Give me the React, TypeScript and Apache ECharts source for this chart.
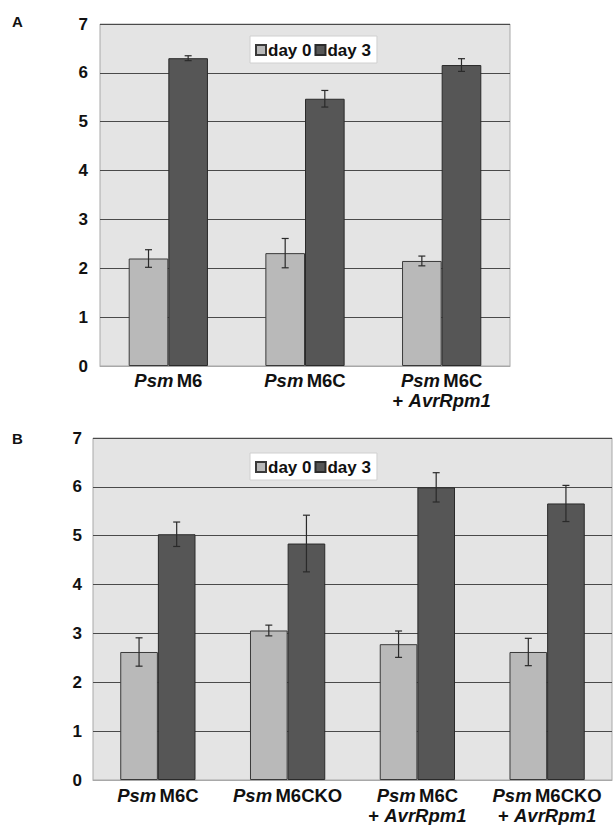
import React, { useEffect, useRef } from "react";
import * as echarts from "echarts";

const catsA = [
  ["Psm", "M6", ""],
  ["Psm", "M6C", ""],
  ["Psm", "M6C", "AvrRpm1"],
];
const day0A = [2.2, 2.31, 2.15];
const day0ErrA = [0.18, 0.3, 0.1];
const day3A = [6.3, 5.47, 6.16];
const day3ErrA = [0.05, 0.17, 0.13];

const catsB = [
  ["Psm", "M6C", ""],
  ["Psm", "M6CKO", ""],
  ["Psm", "M6C", "AvrRpm1"],
  ["Psm", "M6CKO", "AvrRpm1"],
];
const day0B = [2.62, 3.06, 2.78, 2.62];
const day0ErrB = [0.29, 0.11, 0.27, 0.28];
const day3B = [5.03, 4.84, 5.99, 5.66];
const day3ErrB = [0.25, 0.58, 0.3, 0.37];

const yTicks = [0, 1, 2, 3, 4, 5, 6, 7];

const GAP = 0.42;
const FONT = "Liberation Sans, Arial, sans-serif";

function catLabel(c: string[]) {
  return c[2] ? `{i|${c[0]}} {b|${c[1]}}\n{b|+ }{i|${c[2]}}` : `{i|${c[0]}} {b|${c[1]}}`;
}

function errSeries(vals: number[], errs: number[], gi: number, side: number) {
  return {
    type: "custom",
    xAxisIndex: gi,
    yAxisIndex: gi,
    z: 5,
    silent: true,
    data: vals.map((v, i) => [i, v, errs[i]]),
    renderItem: (params: any, api: any) => {
      const i = api.value(0);
      const v = api.value(1);
      const e = api.value(2);
      const catW = api.size([1, 0])[0];
      const barW = (catW * (1 - GAP)) / 2;
      const off = (side * barW) / 2;
      const t = api.coord([i, v + e]);
      const b = api.coord([i, v - e]);
      const x = t[0] + off;
      const cap = 3.5;
      const style = { stroke: "#2a2a2a", lineWidth: 1.2 };
      return {
        type: "group",
        children: [
          { type: "line", shape: { x1: x, y1: t[1], x2: x, y2: b[1] }, style },
          { type: "line", shape: { x1: x - cap, y1: t[1], x2: x + cap, y2: t[1] }, style },
          { type: "line", shape: { x1: x - cap, y1: b[1], x2: x + cap, y2: b[1] }, style },
        ],
      };
    },
  };
}

export default function App() {
  const ref = useRef<HTMLDivElement>(null);
  useEffect(() => {
    const chart = echarts.init(ref.current!, undefined, { renderer: "svg" });
    const rich = {
      i: { fontStyle: "italic", fontWeight: "bold", fontSize: 18.5, fontFamily: FONT, color: "#111", lineHeight: 20 },
      b: { fontWeight: "bold", fontSize: 18.5, fontFamily: FONT, color: "#111", lineHeight: 20 },
    };
    const grids = [
      { left: 100, top: 24, width: 410, height: 342 },
      { left: 93, top: 438, width: 519, height: 342 },
    ];
    const cats = [catsA, catsB];
    const option: any = {
      animation: false,
      backgroundColor: "#ffffff",
      grid: grids.map((g) => ({
        ...g,
        show: true,
        backgroundColor: "#e4e4e4",
        borderColor: "#a8a8a8",
        borderWidth: 1,
        containLabel: false,
      })),
      xAxis: cats.map((c, gi) => ({
        type: "category",
        gridIndex: gi,
        data: c.map((_, i) => String(i)),
        axisLine: { show: true, lineStyle: { color: "#a8a8a8", width: 1 } },
        axisTick: { show: false },
        axisLabel: {
          margin: gi === 0 ? 4 : 5,
          interval: 0,
          formatter: (v: string) => catLabel(c[Number(v)]),
          rich,
        },
      })),
      yAxis: [0, 1].map((gi) => ({
        type: "value",
        gridIndex: gi,
        min: yTicks[0],
        max: yTicks[yTicks.length - 1],
        interval: 1,
        axisLine: { show: false },
        axisTick: { show: false },
        splitLine: { show: true, lineStyle: { color: "#4a4a4a", width: 1.2 } },
        axisLabel: {
          margin: gi === 0 ? 12 : 11,
          fontSize: 17,
          fontWeight: "bold",
          fontFamily: FONT,
          color: "#111",
        },
      })),
      legend: [
        { left: 250, top: 36 },
        { left: 250, top: 453 },
      ].map((p) => ({
        ...p,
        data: ["day 0", "day 3"],
        backgroundColor: "#ffffff",
        borderColor: "#d0d0d0",
        borderWidth: 1,
        padding: [5, 6, 4, 5],
        itemGap: 3,
        itemWidth: 10,
        itemHeight: 10,
        icon: "rect",
        textStyle: { fontSize: 17, fontWeight: "bold", fontFamily: FONT, color: "#111", padding: [0, 0, 0, -3], lineHeight: 18 },
        selectedMode: false,
      })),
      graphic: [
        { type: "text", left: 12, top: 14, style: { text: "A", fontSize: 15, fontWeight: "bold", fontFamily: FONT, fill: "#111" } },
        { type: "text", left: 12, top: 431, style: { text: "B", fontSize: 15, fontWeight: "bold", fontFamily: FONT, fill: "#111" } },
      ],
      series: [
        {
          name: "day 0", type: "bar", xAxisIndex: 0, yAxisIndex: 0, data: day0A,
          barGap: "0%", barCategoryGap: `${GAP * 100}%`,
          itemStyle: { color: "#b9b9b9", borderColor: "#3a3a3a", borderWidth: 1 },
        },
        {
          name: "day 3", type: "bar", xAxisIndex: 0, yAxisIndex: 0, data: day3A,
          barGap: "0%", barCategoryGap: `${GAP * 100}%`,
          itemStyle: { color: "#565656", borderColor: "#2a2a2a", borderWidth: 1 },
        },
        {
          name: "day 0", type: "bar", xAxisIndex: 1, yAxisIndex: 1, data: day0B,
          barGap: "0%", barCategoryGap: `${GAP * 100}%`,
          itemStyle: { color: "#b9b9b9", borderColor: "#3a3a3a", borderWidth: 1 },
        },
        {
          name: "day 3", type: "bar", xAxisIndex: 1, yAxisIndex: 1, data: day3B,
          barGap: "0%", barCategoryGap: `${GAP * 100}%`,
          itemStyle: { color: "#565656", borderColor: "#2a2a2a", borderWidth: 1 },
        },
        errSeries(day0A, day0ErrA, 0, -1),
        errSeries(day3A, day3ErrA, 0, 1),
        errSeries(day0B, day0ErrB, 1, -1),
        errSeries(day3B, day3ErrB, 1, 1),
      ],
    };
    chart.setOption(option);
    return () => chart.dispose();
  }, []);
  return <div ref={ref} style={{ position: "fixed", left: 0, top: 0, width: 613, height: 825 }} />;
}
